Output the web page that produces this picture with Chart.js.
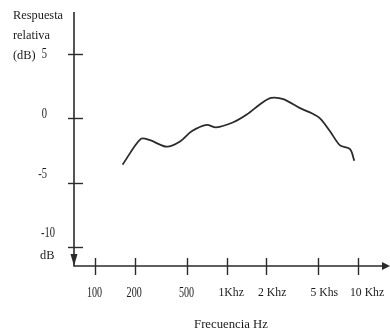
<!DOCTYPE html>
<html>
<head>
<meta charset="utf-8">
<script src="https://cdn.jsdelivr.net/npm/chart.js@4/dist/chart.umd.min.js"></script>
<style>
  body { margin: 0; background: #fff; }
  #chart { display: block; }
</style>
</head>
<body>
<canvas id="chart" width="390" height="334"></canvas>
<script>
// DATA
const freqs = [162, 223, 262, 351, 443, 543, 706, 832, 1126, 1425, 1854, 2180, 2704, 3622, 4446, 5140, 6124, 7297, 8696, 9376];
const response = [-3.6, -1.6, -1.7, -2.2, -1.8, -1.0, -0.5, -0.7, -0.3, 0.3, 1.2, 1.6, 1.5, 0.8, 0.4, 0.0, -1.0, -2.1, -2.4, -3.3];
const xTicks = [100, 200, 500, 1000, 2000, 5000, 10000];
const xTickLabels = ["100", "200", "500", "1Khz", "2 Khz", "5 Khs", "10 Khz"];
const yTicks = [5, 0, -5, -10];
const yTickLabels = ["5", "0", "-5", "-10"];
const xTitle = "Frecuencia Hz";
const yTitle = ["Respuesta", "relativa", "(dB)"];
const yUnit = "dB";

const FONT = "13px 'Liberation Serif', 'DejaVu Serif', serif";
const NUM_FONT = "14px 'Liberation Serif', 'DejaVu Serif', serif";
const INK = "#2b2b2b";
const TEXT = "#1a1a1a";

// text with a horizontal squeeze, the original type is narrow
function drawText(ctx, text, x, y, align, sx) {
    ctx.save();
    ctx.translate(x, y);
    ctx.scale(sx, 1);
    ctx.textAlign = align;
    ctx.fillText(text, 0, 0);
    ctx.restore();
}

// AXES, TICKS AND LABELS DRAWN BY HAND (OLD TEXTBOOK STYLE)
const axesPlugin = {
    id: "axes",
    afterDraw(chart) {
        const ctx = chart.ctx;
        const xs = chart.scales.x;
        const ys = chart.scales.y;
        const area = chart.chartArea;
        const x0 = area.left;
        const yb = area.bottom;

        ctx.save();
        ctx.strokeStyle = INK;
        ctx.fillStyle = INK;
        ctx.lineWidth = 1.6;

        // axis lines
        ctx.beginPath();
        ctx.moveTo(x0, area.top);
        ctx.lineTo(x0, yb);
        ctx.lineTo(area.right - 2, yb);
        ctx.stroke();

        // arrows
        ctx.beginPath();
        ctx.moveTo(x0 - 3.5, yb - 12);
        ctx.lineTo(x0 + 3.5, yb - 12);
        ctx.lineTo(x0, yb);
        ctx.closePath();
        ctx.fill();
        ctx.beginPath();
        ctx.moveTo(area.right - 8, yb - 4);
        ctx.lineTo(area.right - 8, yb + 4);
        ctx.lineTo(area.right, yb);
        ctx.closePath();
        ctx.fill();

        // y ticks
        ctx.lineWidth = 1.4;
        yTicks.forEach(v => {
            const py = Math.round(ys.getPixelForValue(v)) + 0.5;
            ctx.beginPath();
            ctx.moveTo(x0 - 6, py);
            ctx.lineTo(x0 + 9, py);
            ctx.stroke();
        });

        // x ticks
        xTicks.forEach(v => {
            const px = Math.round(xs.getPixelForValue(v)) + 0.5;
            ctx.beginPath();
            ctx.moveTo(px, yb - 8);
            ctx.lineTo(px, yb + 9);
            ctx.stroke();
        });

        ctx.fillStyle = TEXT;
        ctx.textBaseline = "middle";

        // x tick labels
        xTicks.forEach((v, i) => {
            const isK = /K/.test(xTickLabels[i]);
            ctx.font = isK ? FONT : NUM_FONT;
            drawText(ctx, xTickLabels[i], xs.getPixelForValue(v) - 8, yb + 27, "left", isK ? 0.9 : 0.72);
        });

        // y tick labels (they drift a bit above their ticks in the original)
        ctx.font = NUM_FONT;
        yTicks.forEach((v, i) => {
            const py = ys.getPixelForValue(v) - (5 - v) * 0.87;
            drawText(ctx, yTickLabels[i], v === -10 ? 55 : 47, py, "right", 0.75);
        });

        // y title
        ctx.font = FONT;
        yTitle.forEach((t, i) => drawText(ctx, t, 13, 16 + i * 20, "left", 0.95));
        drawText(ctx, yUnit, 40, 256, "left", 0.95);

        // x title
        drawText(ctx, xTitle, 231, 325, "center", 0.98);

        ctx.restore();
    }
};

new Chart(document.getElementById("chart"), {
    type: "scatter",
    data: {
        datasets: [{
            data: freqs.map((f, i) => ({ x: f, y: response[i] })),
            showLine: true,
            borderColor: INK,
            borderWidth: 1.8,
            pointRadius: 0,
            tension: 0.3
        }]
    },
    options: {
        responsive: false,
        animation: false,
        layout: { padding: { left: 74, right: 0, top: 12, bottom: 68 } },
        plugins: { legend: { display: false }, tooltip: { enabled: false } },
        scales: {
            x: { type: "logarithmic", min: 69.2, max: 17513, display: false },
            y: { type: "linear", min: -11.495, max: 8.287, display: false }
        }
    },
    plugins: [axesPlugin]
});
</script>
</body>
</html>
